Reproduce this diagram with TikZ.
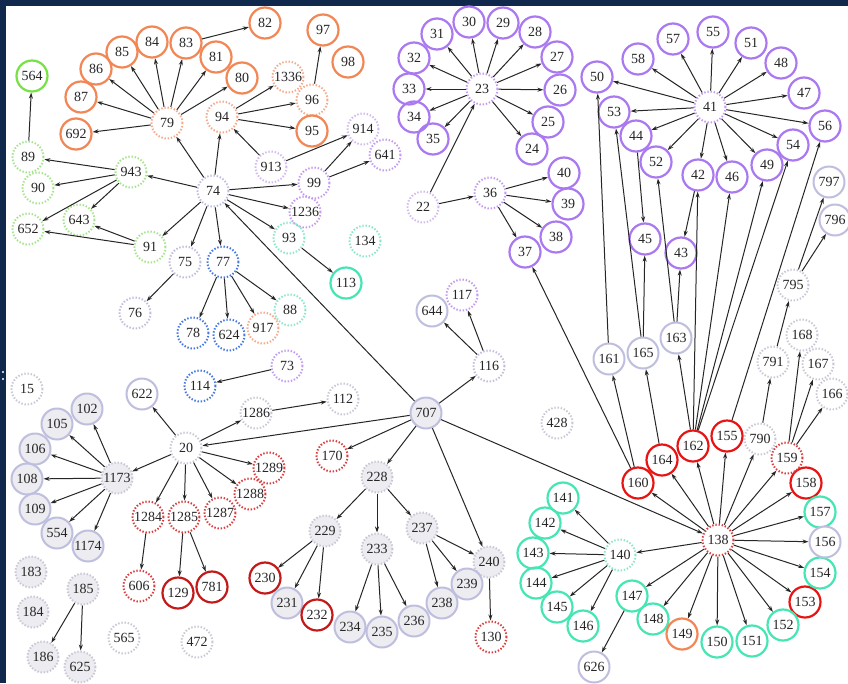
\documentclass[tikz,border=0pt]{standalone}
\usepackage{fontspec}
\setmainfont{Liberation Serif}
\usetikzlibrary{arrows.meta}
\definecolor{navy}{RGB}{16,40,75}
\definecolor{corS}{RGB}{242,135,85}
\definecolor{corD}{RGB}{245,170,140}
\definecolor{cgrS}{RGB}{120,225,70}
\definecolor{cgrD}{RGB}{165,230,140}
\definecolor{cpuS}{RGB}{170,120,240}
\definecolor{cpuD}{RGB}{195,155,240}
\definecolor{cpuL}{RGB}{210,185,240}
\definecolor{clav}{RGB}{190,190,222}
\definecolor{cgy}{RGB}{200,200,215}
\definecolor{cfill}{RGB}{236,236,241}
\definecolor{cblD}{RGB}{70,120,225}
\definecolor{cteS}{RGB}{70,230,180}
\definecolor{cteD}{RGB}{140,230,205}
\definecolor{credS}{RGB}{232,20,20}
\definecolor{cdrS}{RGB}{195,25,25}
\definecolor{credD}{RGB}{220,60,60}
\begin{document}
\begin{tikzpicture}[x=1pt,y=-1pt,
  nd/.style={circle,minimum size=31pt,inner sep=0pt,font=\fontsize{14}{14}\selectfont,text=black!85},
  sol/.style={nd,line width=2.2pt},
  dtt/.style={nd,line width=2pt,dash pattern=on 1.4pt off 1.8pt},
  os/.style={sol,draw=corS},
  od/.style={dtt,draw=corD},
  gs/.style={sol,draw=cgrS},
  gd/.style={dtt,draw=cgrD},
  ps/.style={sol,draw=cpuS},
  pd/.style={dtt,draw=cpuD},
  pdl/.style={dtt,draw=cpuL},
  ld/.style={dtt,draw=clav},
  gyd/.style={dtt,draw=cgy},
  gyf/.style={dtt,draw=cgy,fill=cfill},
  ls/.style={sol,line width=2pt,draw=clav,fill=white},
  lsf/.style={sol,line width=2pt,draw=clav,fill=cfill},
  bd/.style={dtt,draw=cblD},
  ts/.style={sol,draw=cteS},
  td/.style={dtt,draw=cteD},
  rs/.style={sol,draw=credS},
  drs/.style={sol,draw=cdrS},
  rd/.style={dtt,draw=credD},
  arr/.style={-{Stealth[length=6pt,width=4pt]},line width=1pt,draw=black!85}
]
\fill[navy] (0,0) rectangle (848,683);
\fill[white] (6,6) rectangle (848,683);
\fill[white] (3,372) circle (1.1);
\fill[white] (3,379) circle (1.1);
\useasboundingbox (0,0) rectangle (848,683);
% ---------- top-left
\node[gs] (n564) at (32,76) {564};
\node[gd] (n89) at (28,157) {89};
\node[gd] (n90) at (38,188) {90};
\node[gd] (n943) at (131,172) {943};
\node[gd] (n652) at (28,229) {652};
\node[gd] (n643) at (79,220) {643};
\node[gd] (n91) at (150,247) {91};
\node[os] (n692) at (76,134) {692};
\node[os] (n87) at (81,97) {87};
\node[os] (n86) at (96,69) {86};
\node[os] (n85) at (122,52) {85};
\node[os] (n84) at (152,42) {84};
\node[os] (n83) at (186,43) {83};
\node[os] (n82) at (265,23) {82};
\node[os] (n81) at (216,57) {81};
\node[os] (n80) at (242,78) {80};
\node[od] (n79) at (167,123) {79};
\node[od] (n94) at (222,117) {94};
\node[od] (n1336) at (288,77) {1336};
\node[od] (n96) at (312,100) {96};
\node[os] (n97) at (323,30) {97};
\node[os] (n98) at (348,62) {98};
\node[os] (n95) at (312,131) {95};
\node[pdl] (n913) at (271,167) {913};
\node[pdl] (n914) at (363,129) {914};
\node[pd] (n641) at (385,155) {641};
\node[pd] (n99) at (314,183) {99};
\node[pd] (n1236) at (305,212) {1236};
\node[ld] (n74) at (213,191) {74};
\node[td] (n93) at (289,238) {93};
\node[td] (n134) at (365,241) {134};
\node[ts] (n113) at (346,283) {113};
\node[ld] (n75) at (185,262) {75};
\node[bd] (n77) at (223,262) {77};
\node[ld] (n76) at (135,313) {76};
\node[bd] (n78) at (193,333) {78};
\node[bd] (n624) at (229,335) {624};
\node[od] (n917) at (263,328) {917};
\node[td] (n88) at (290,310) {88};
\node[pd] (n73) at (287,366) {73};
\node[bd] (n114) at (200,386) {114};
% ---------- left / middle
\node[gyd] (n15) at (27,389) {15};
\node[ls] (n622) at (142,394) {622};
\node[lsf] (n102) at (87,409) {102};
\node[lsf] (n105) at (57,424) {105};
\node[lsf] (n106) at (35,449) {106};
\node[lsf] (n108) at (27,479) {108};
\node[lsf] (n109) at (35,509) {109};
\node[lsf] (n554) at (57,533) {554};
\node[lsf] (n1174) at (88,546) {1174};
\node[gyf] (n1173) at (117,478) {1173};
\node[gyd] (n20) at (186,448) {20};
\node[gyd] (n1286) at (256,413) {1286};
\node[gyd] (n112) at (343,399) {112};
\node[lsf] (n707) at (426,413) {707};
\node[rd] (n1289) at (269,468) {1289};
\node[rd] (n1288) at (250,494) {1288};
\node[rd] (n1287) at (220,513) {1287};
\node[rd] (n1285) at (184,517) {1285};
\node[rd] (n1284) at (148,517) {1284};
\node[rd] (n606) at (139,586) {606};
\node[drs] (n129) at (178,593) {129};
\node[drs] (n781) at (212,587) {781};
\node[gyf] (n183) at (31,572) {183};
\node[gyf] (n184) at (33,612) {184};
\node[gyf] (n185) at (83,589) {185};
\node[gyf] (n186) at (43,657) {186};
\node[gyf] (n625) at (80,667) {625};
\node[gyd] (n565) at (124,638) {565};
\node[gyd] (n472) at (197,642) {472};
\node[rd] (n170) at (332,456) {170};
\node[gyf] (n228) at (377,477) {228};
\node[gyf] (n229) at (325,531) {229};
\node[gyf] (n233) at (377,549) {233};
\node[gyf] (n237) at (422,528) {237};
\node[gyf] (n240) at (489,562) {240};
\node[drs] (n230) at (265,578) {230};
\node[lsf] (n231) at (287,603) {231};
\node[drs] (n232) at (317,615) {232};
\node[lsf] (n234) at (350,627) {234};
\node[lsf] (n235) at (382,632) {235};
\node[lsf] (n236) at (414,621) {236};
\node[lsf] (n238) at (442,603) {238};
\node[lsf] (n239) at (467,584) {239};
\node[rd] (n130) at (491,637) {130};
\node[pd] (n117) at (462,295) {117};
\node[ls] (n644) at (432,311) {644};
\node[ld] (n116) at (489,366) {116};
\node[gyd] (n428) at (557,423) {428};
% ---------- purple cluster (23)
\node[pd] (n23) at (482,89) {23};
\node[ps] (n30) at (469,22) {30};
\node[ps] (n29) at (503,23) {29};
\node[ps] (n28) at (535,32) {28};
\node[ps] (n27) at (557,57) {27};
\node[ps] (n26) at (560,90) {26};
\node[ps] (n25) at (548,122) {25};
\node[ps] (n24) at (532,149) {24};
\node[ps] (n31) at (437,34) {31};
\node[ps] (n32) at (414,58) {32};
\node[ps] (n33) at (409,89) {33};
\node[ps] (n34) at (414,117) {34};
\node[ps] (n35) at (433,139) {35};
\node[pdl] (n22) at (423,207) {22};
\node[pd] (n36) at (490,193) {36};
\node[ps] (n40) at (564,173) {40};
\node[ps] (n39) at (568,204) {39};
\node[ps] (n38) at (556,237) {38};
\node[ps] (n37) at (525,252) {37};
% ---------- purple cluster (41)
\node[pd] (n41) at (710,107) {41};
\node[ps] (n55) at (713,32) {55};
\node[ps] (n57) at (673,39) {57};
\node[ps] (n51) at (751,43) {51};
\node[ps] (n58) at (638,59) {58};
\node[ps] (n48) at (781,63) {48};
\node[ps] (n50) at (597,77) {50};
\node[ps] (n47) at (804,93) {47};
\node[ps] (n53) at (614,112) {53};
\node[ps] (n56) at (825,126) {56};
\node[ps] (n44) at (636,136) {44};
\node[ps] (n54) at (793,145) {54};
\node[ps] (n52) at (656,162) {52};
\node[ps] (n42) at (698,175) {42};
\node[ps] (n46) at (732,177) {46};
\node[ps] (n49) at (767,165) {49};
\node[ps] (n45) at (645,239) {45};
\node[ps] (n43) at (681,253) {43};
\node[ls] (n797) at (829,182) {797};
\node[ls] (n796) at (835,220) {796};
\node[gyd] (n795) at (793,285) {795};
\node[gyd] (n168) at (802,335) {168};
\node[gyd] (n791) at (773,362) {791};
\node[gyd] (n167) at (818,364) {167};
\node[gyd] (n166) at (832,394) {166};
\node[gyd] (n790) at (760,439) {790};
\node[ls] (n163) at (676,338) {163};
\node[ls] (n161) at (609,359) {161};
\node[ls] (n165) at (643,353) {165};
\node[rs] (n155) at (727,436) {155};
\node[rs] (n162) at (693,446) {162};
\node[rs] (n164) at (662,460) {164};
\node[rs] (n160) at (638,483) {160};
\node[rs] (n158) at (806,483) {158};
\node[rs] (n153) at (805,602) {153};
\node[rd] (n159) at (787,458) {159};
\node[rd] (n138) at (718,540) {138};
\node[ts] (n141) at (563,498) {141};
\node[ts] (n142) at (545,523) {142};
\node[ts] (n157) at (820,512) {157};
\node[ts] (n143) at (533,553) {143};
\node[ts] (n144) at (536,583) {144};
\node[ts] (n154) at (820,573) {154};
\node[ts] (n147) at (632,596) {147};
\node[ts] (n145) at (557,607) {145};
\node[ts] (n148) at (653,619) {148};
\node[ts] (n146) at (583,626) {146};
\node[ts] (n152) at (783,625) {152};
\node[ts] (n150) at (717,642) {150};
\node[ts] (n151) at (752,641) {151};
\node[td] (n140) at (620,555) {140};
\node[ls] (n156) at (825,542) {156};
\node[ls] (n626) at (594,667) {626};
\node[os] (n149) at (682,634) {149};
% ---------- edges
\foreach \a/\b in {89/564, 943/89, 943/90, 943/652, 943/643, 91/652, 91/643,
  74/943, 74/79, 74/94, 74/99, 74/1236, 74/93, 74/91, 74/75, 74/77,
  79/692, 79/87, 79/86, 79/85, 79/84, 79/83, 79/81, 79/80, 83/82,
  94/1336, 94/96, 94/95, 96/97, 913/94, 913/914, 99/914, 99/641,
  93/113, 75/76, 77/78, 77/624, 77/917, 77/88, 73/114,
  20/622, 20/1286, 1286/112, 707/20, 20/1173,
  20/1289, 20/1288, 20/1287, 20/1285, 20/1284,
  1173/102, 1173/105, 1173/106, 1173/108, 1173/109, 1173/554, 1173/1174,
  1284/606, 1285/129, 1285/781, 185/186, 185/625,
  707/116, 116/644, 116/117, 707/170, 707/228, 707/240, 707/74, 707/138,
  228/229, 228/233, 228/237, 229/230, 229/231, 229/232,
  233/234, 233/235, 233/236, 237/238, 237/239, 237/240, 240/130,
  23/24, 23/25, 23/26, 23/27, 23/28, 23/29, 23/30, 23/31, 23/32, 23/33, 23/34, 23/35,
  22/23, 22/36, 36/40, 36/39, 36/38, 36/37,
  41/50, 41/58, 41/57, 41/55, 41/51, 41/48, 41/47, 41/56, 41/54, 41/49,
  41/46, 41/42, 41/52, 41/44, 41/53, 42/43, 44/45,
  138/140, 140/141, 140/142, 140/143, 140/144, 140/145, 140/146, 147/626,
  138/147, 138/148, 138/149, 138/150, 138/151, 138/152, 138/153, 138/154,
  138/156, 138/157, 138/158, 138/159, 138/155, 138/162, 138/164, 138/160, 138/790,
  160/37, 160/161, 161/50, 164/165, 165/45, 165/53, 163/43, 163/52,
  162/163, 162/42, 162/46, 162/49, 162/54, 155/56,
  790/791, 791/795, 795/797, 795/796, 159/168, 159/167, 159/166}
  \draw[arr] (n\a) -- (n\b);
\end{tikzpicture}
\end{document}
